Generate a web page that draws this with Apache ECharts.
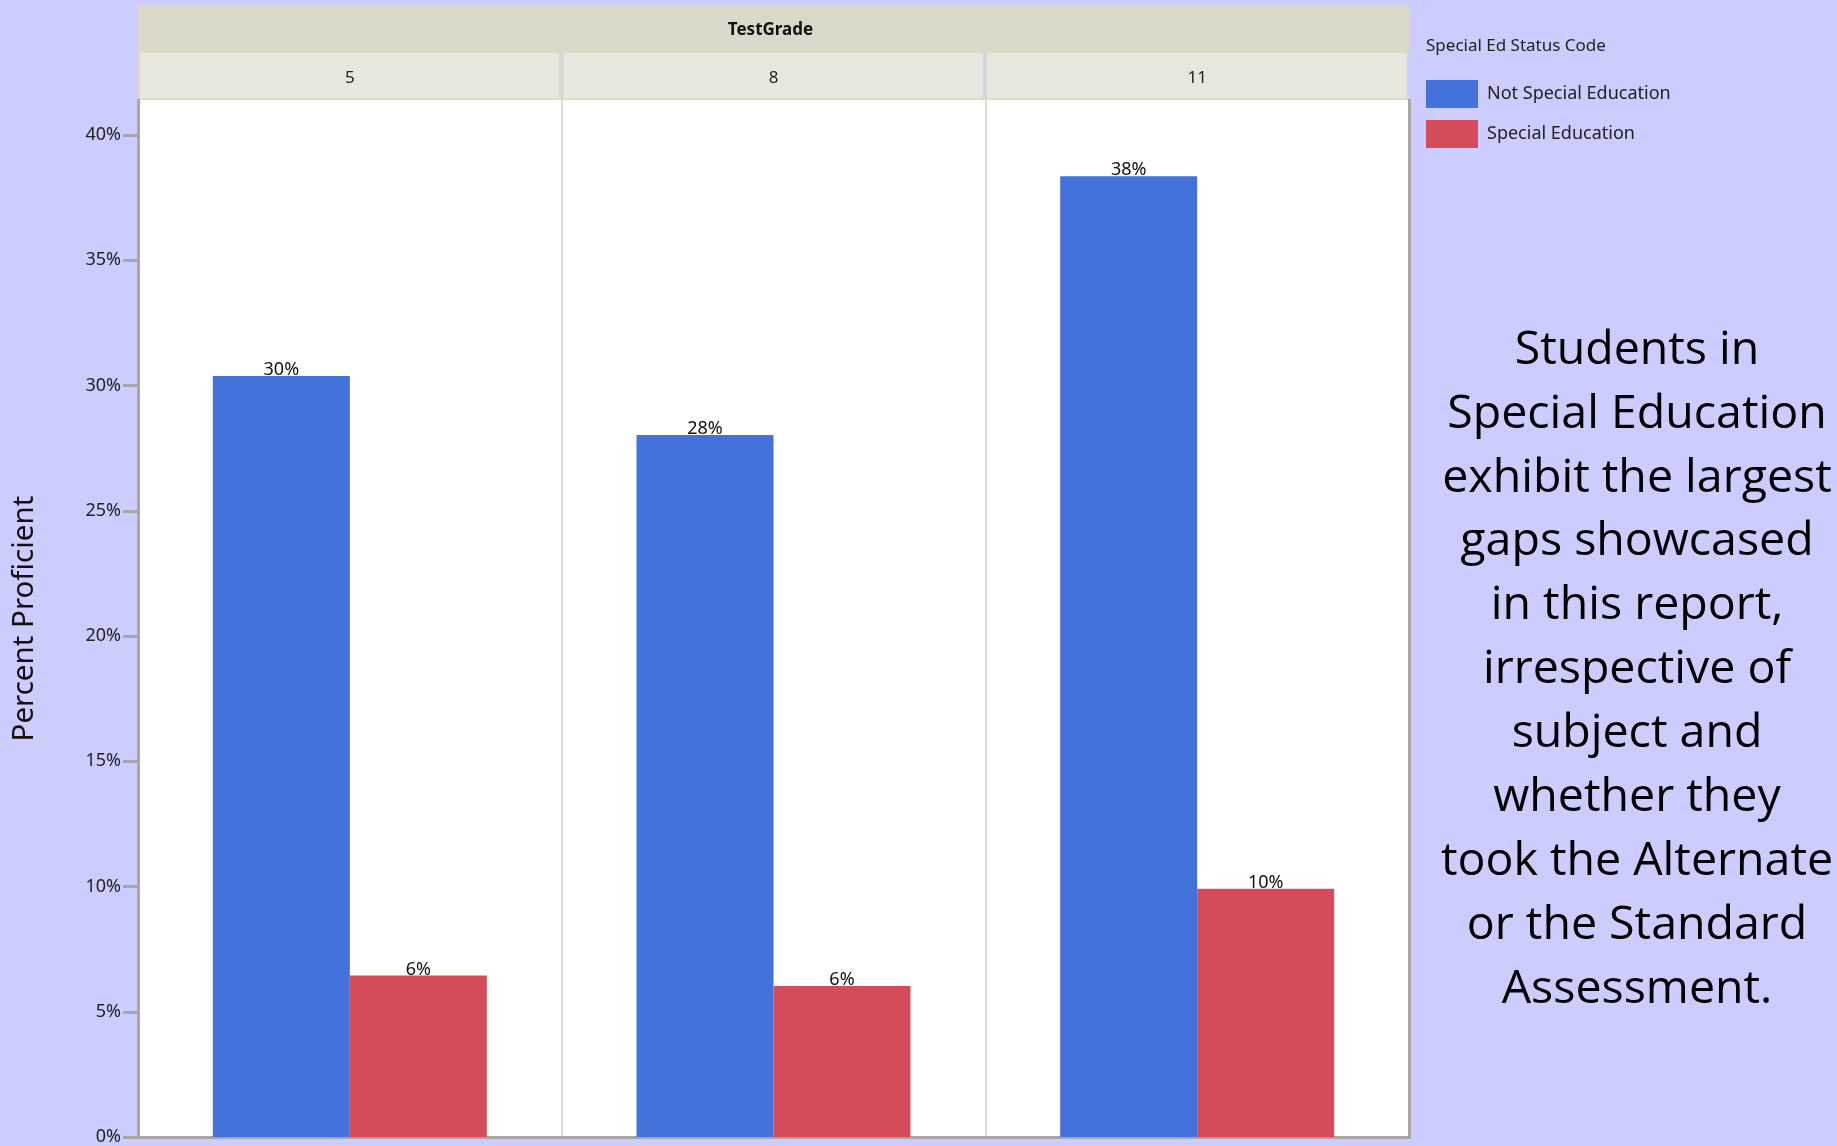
<!DOCTYPE html>
<html>
<head>
<meta charset="utf-8">
<script src="https://cdn.jsdelivr.net/npm/echarts@6/dist/echarts.min.js"></script>
<style>
html,body{margin:0;padding:0;background:#CCCCFF;}
#chart{width:1837px;height:1146px;}
</style>
</head>
<body>
<div id="chart"></div>
<script>
// ---- data ----
const grades = ['5', '8', '11'];
const seriesNames = ['Not Special Education', 'Special Education'];
const notSpecialEd = [30.38, 28.03, 38.36];
const specialEd = [6.45, 6.03, 9.91];
const yTicks = [0, 5, 10, 15, 20, 25, 30, 35, 40];
const headerTitle = 'TestGrade';
const legendTitle = 'Special Ed Status Code';
const yAxisTitle = 'Percent Proficient';
const noteLines = ['Students in', 'Special Education', 'exhibit the largest', 'gaps showcased', 'in this report,', 'irrespective of', 'subject and', 'whether they', 'took the Alternate', 'or the Standard', 'Assessment.'];

// ---- layout ----
const GL = 138, GT = 100, GR = 1409, GB = 1138;
const FONT = '"Noto Sans", "Open Sans", sans-serif';
const chart = echarts.init(document.getElementById('chart'));
const pw = (GR - GL) / grades.length;

const headerGraphics = [
  { type: 'rect', shape: { x: GL, y: 5, width: GR - GL, height: 47 }, style: { fill: '#DBD8CA' }, z: 0 },
  { type: 'text', x: (GL + GR) / 2 - 3, y: 30, style: { text: headerTitle, font: 'bold 17px ' + FONT, fill: '#111', align: 'center', verticalAlign: 'middle' }, z: 1 }
];
grades.forEach((g, i) => {
  headerGraphics.push({ type: 'rect', shape: { x: GL + i * pw + 1, y: 52, width: pw - 3, height: 47 }, style: { fill: '#E7E7DF', stroke: '#DCDBCC', lineWidth: 2 }, z: 0 });
});
headerGraphics.push({ type: 'rect', shape: { x: GL, y: 98, width: GR - GL, height: 2 }, style: { fill: '#DCDBCC' }, z: 0 });

const labelFmt = p => Math.round(p.value) + '%';

chart.setOption({
  backgroundColor: '#CCCCFF',
  animation: false,
  textStyle: { fontFamily: FONT },
  title: {
    text: legendTitle, left: 1426, top: 38, padding: 0,
    textStyle: { fontSize: 17, fontWeight: 'normal', color: '#222', fontFamily: FONT }
  },
  legend: {
    orient: 'vertical', left: 1426, top: 80, padding: 0,
    itemWidth: 52, itemHeight: 28, itemGap: 12, icon: 'rect',
    data: seriesNames,
    textStyle: { fontSize: 18, color: '#222', fontFamily: FONT, padding: [7, 0, 0, 4] }
  },
  grid: { left: GL, top: GT, width: GR - GL, height: GB - GT, containLabel: false, backgroundColor: '#fff', show: true, borderWidth: 0 },
  xAxis: [
    {
      type: 'category', data: grades, position: 'bottom', boundaryGap: true,
      axisLine: { show: true, lineStyle: { color: '#A6A6A6', width: 3 } },
      axisTick: { show: false }, axisLabel: { show: false },
      splitLine: { show: true, lineStyle: { color: '#D9D9D9', width: 2 } }
    },
    {
      type: 'category', data: grades, position: 'top', boundaryGap: true,
      axisLine: { show: false }, axisTick: { show: false },
      axisLabel: { show: true, margin: 13, fontSize: 17, color: '#222', fontFamily: FONT },
      splitLine: { show: false }
    }
  ],
  yAxis: [
    {
      type: 'value', min: 0, max: 41.4, interval: 5,
      name: yAxisTitle, nameLocation: 'middle', nameGap: 98, nameRotate: 90,
      nameTextStyle: { fontSize: 29.5, color: '#111', fontFamily: FONT },
      axisLine: { show: true, lineStyle: { color: '#A6A6A6', width: 3 } },
      axisTick: { show: true, length: 15, lineStyle: { color: '#A6A6A6', width: 3 }, customValues: yTicks },
      axisLabel: { fontSize: 18, color: '#222', margin: 17, formatter: '{value}%', customValues: yTicks, fontFamily: FONT },
      splitLine: { show: false }
    },
    {
      type: 'value', min: 0, max: 41.4, position: 'right',
      axisLine: { show: true, lineStyle: { color: '#A6A6A6', width: 3 } },
      axisTick: { show: false }, axisLabel: { show: false }, splitLine: { show: false }
    }
  ],
  series: [
    {
      name: seriesNames[0], type: 'bar', data: notSpecialEd, barWidth: 137, barGap: '0%',
      itemStyle: { color: '#4472DB' },
      label: { show: true, position: 'top', distance: -3, formatter: labelFmt, fontSize: 18, color: '#111', fontFamily: FONT }
    },
    {
      name: seriesNames[1], type: 'bar', data: specialEd, barWidth: 137, barGap: '0%',
      itemStyle: { color: '#D44B5A' },
      label: { show: true, position: 'top', distance: -3, formatter: labelFmt, fontSize: 18, color: '#111', fontFamily: FONT }
    }
  ],
  graphic: headerGraphics.concat([
    {
      type: 'text', x: 1637, y: 670,
      style: {
        text: noteLines.join('\n'), font: '46.5px "Open Sans", sans-serif', fill: '#000',
        align: 'center', verticalAlign: 'middle', lineHeight: 63.9
      }
    }
  ])
});
</script>
</body>
</html>
